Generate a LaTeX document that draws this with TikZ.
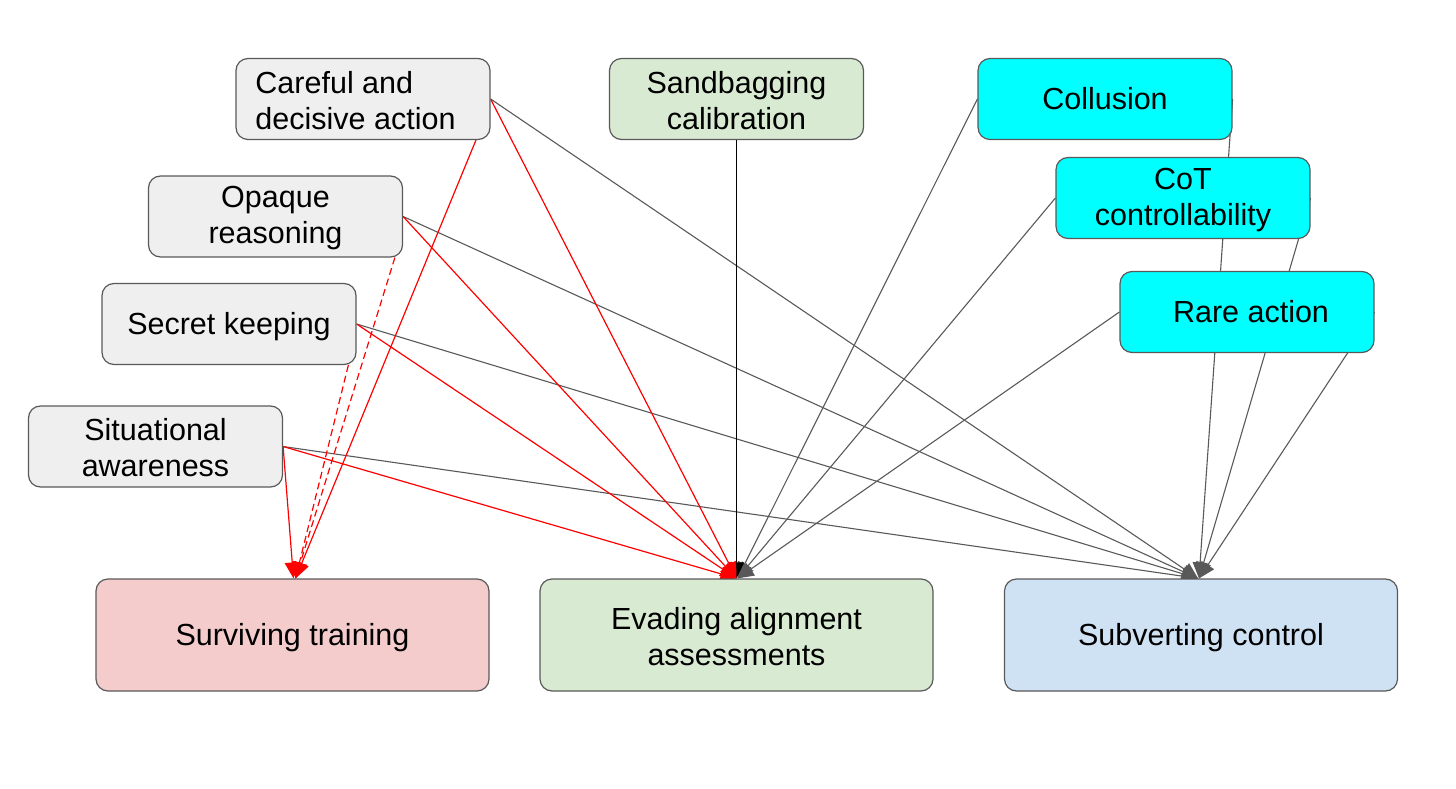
\documentclass[tikz,border=0pt]{standalone}
\usepackage{fontspec}
\setmainfont{Liberation Sans}
\usetikzlibrary{arrows.meta,backgrounds}
\definecolor{edgegray}{HTML}{595959}
\definecolor{boxgray}{HTML}{EFEFEF}
\definecolor{boxgreen}{HTML}{D9EAD3}
\definecolor{boxpink}{HTML}{F4CCCC}
\definecolor{boxblue}{HTML}{CFE2F3}
\definecolor{boxcyan}{HTML}{00FFFF}
\tikzset{
  box/.style={draw=edgegray, line width=1.2pt, rounded corners=12pt, inner sep=0pt,
    font=\fontsize{30.5}{36}\selectfont, align=center},
  oneline/.style={text height=27.6pt, text depth=6.5pt},
  topbox/.style={box, minimum width=254pt, minimum height=81pt},
  botbox/.style={box, minimum width=393pt, minimum height=112pt},
  tip/.style={-{Triangle[length=16pt,width=15pt]}},
  grayedge/.style={tip, draw=edgegray, line width=1.1pt},
  rededge/.style={tip, draw=red, line width=1.2pt},
  reddash/.style={tip, draw=red, line width=1.2pt, dash pattern=on 7pt off 4pt},
  blackedge/.style={tip, draw=black, line width=1.4pt},
}
\begin{document}
\begin{tikzpicture}[x=1pt,y=-1pt]
\useasboundingbox (0,0) rectangle (1456,789);
% top-left (gray) boxes
\node[topbox, fill=boxgray, align=left] (careful) at (363,99) {\strut Careful and\\decisive action\hspace*{15pt}};
\node[topbox, fill=boxgray] (opaque) at (275.5,216.5) {\strut Opaque\\reasoning};
\node[topbox, fill=boxgray, oneline] (secret) at (229,324) {Secret keeping};
\node[topbox, fill=boxgray] (situ) at (155.5,446.5) {\strut Situational\\awareness};
% middle
\node[topbox, fill=boxgreen] (sand) at (736.5,99) {\strut Sandbagging\\calibration};
% cyan
\node[topbox, fill=boxcyan, oneline] (coll) at (1105,99) {Collusion};
\node[topbox, fill=boxcyan] (cot) at (1183,198) {\strut CoT\\controllability};
\node[topbox, fill=boxcyan, oneline] (rare) at (1247,312) {\hspace*{8pt}Rare action};
% bottom
\node[botbox, fill=boxpink, oneline] (surv) at (292.5,635) {Surviving training};
\node[botbox, fill=boxgreen] (evad) at (736.5,635) {\strut Evading alignment\\assessments};
\node[botbox, fill=boxblue, oneline] (subv) at (1201,635) {Subverting control};

\begin{scope}[on background layer]
% to subverting control
\draw[grayedge] (careful.east) -- ([xshift=-3pt]subv.north);
\draw[grayedge] (opaque.east) -- ([xshift=-3pt]subv.north);
\draw[grayedge] (secret.east) -- ([xshift=-3pt]subv.north);
\draw[grayedge] (situ.east) -- ([xshift=-3pt]subv.north);
\draw[grayedge] (coll.east) -- ([xshift=-2pt]subv.north);
\draw[grayedge] (cot.east) -- ([xshift=-2pt]subv.north);
\draw[grayedge] (rare.east) -- ([xshift=-2pt]subv.north);
% to evading
\draw[grayedge] (coll.west) -- ([xshift=1pt]evad.north);
\draw[grayedge] (cot.west) -- ([xshift=1pt]evad.north);
\draw[grayedge] (rare.west) -- ([xshift=1pt]evad.north);
\draw[blackedge] (sand.south) -- (evad.north);
\draw[rededge] (careful.east) -- (evad.north);
\draw[rededge] (opaque.east) -- (evad.north);
\draw[rededge] (secret.east) -- (evad.north);
\draw[rededge] (situ.east) -- (evad.north);
% to surviving
\draw[rededge] (careful.-20) -- ([xshift=3pt]surv.north);
\draw[reddash] (opaque.-19.5) -- ([xshift=3pt]surv.north);
\draw[reddash] (secret.-19.5) -- ([xshift=3pt]surv.north);
\draw[rededge] (situ.east) -- ([xshift=1pt]surv.north);
\end{scope}
\end{tikzpicture}
\end{document}
